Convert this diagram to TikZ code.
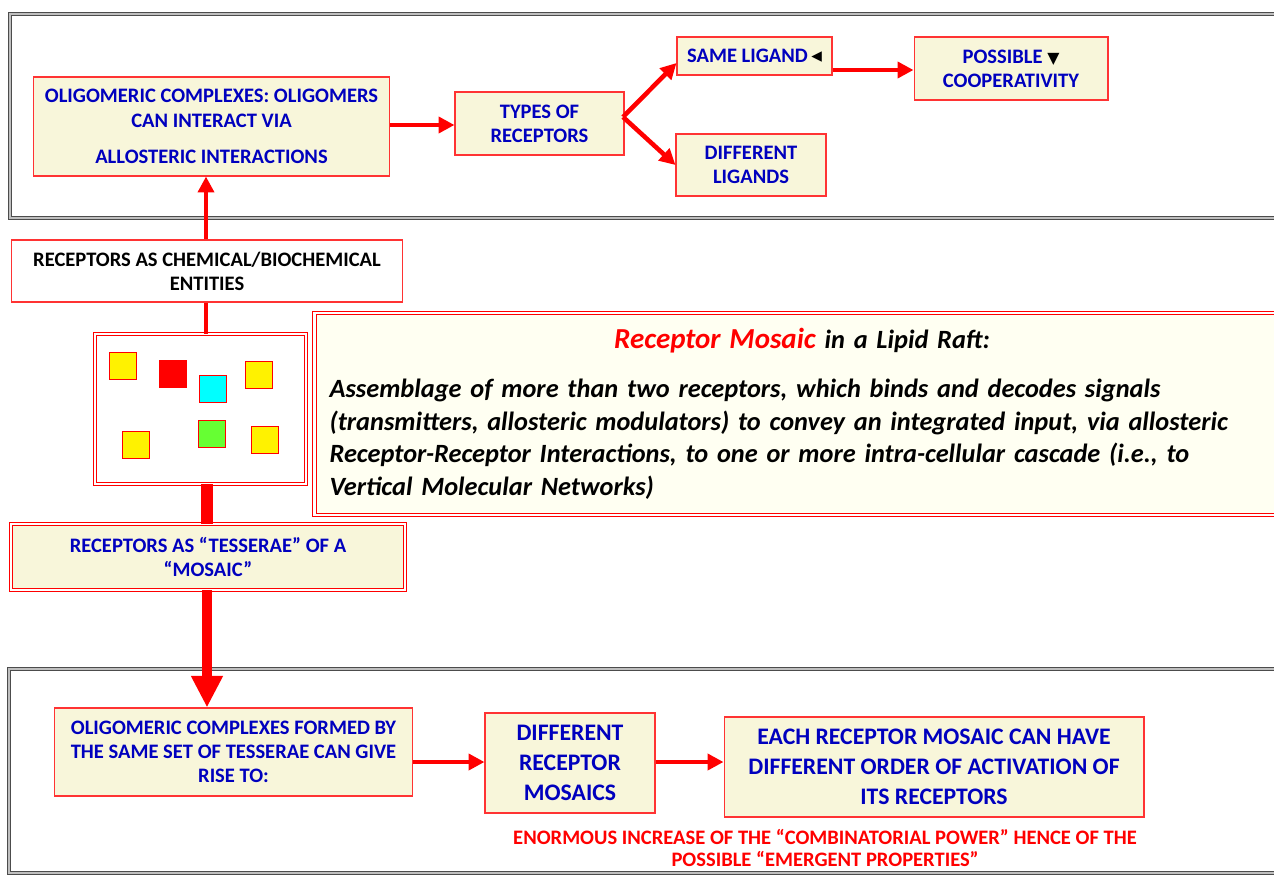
\documentclass[tikz,border=0pt]{standalone}
\usepackage{fontspec}
\setmainfont{Carlito}
\newfontfamily\symfont{DejaVu Sans}
\usetikzlibrary{arrows.meta,positioning}

\definecolor{boxfill}{RGB}{248,246,218}
\definecolor{raftfill}{RGB}{255,255,242}
\definecolor{labelblue}{RGB}{0,0,190}
\definecolor{tilegreen}{RGB}{102,255,51}
\definecolor{tilecyan}{RGB}{0,255,255}

\begin{document}
\begin{tikzpicture}[
  x=0.02cm, y=-0.02cm,
  >={Triangle[length=9pt,width=9pt]},
  link/.style={->, draw=red, line width=2.6pt},
  stem/.style={draw=red, line width=2.2pt},
  frame/.style={draw=black!70, double=black!25, double distance=0.7pt, line width=0.7pt},
  box/.style={
    rectangle,
    draw=red!80,
    fill=boxfill,
    line width=0.6pt,
    align=center,
    inner sep=2pt,
    text=labelblue,
    font=\bfseries\fontsize{11.7}{13.8}\selectfont
  },
  bigbox/.style={box, font=\bfseries\fontsize{13.5}{17}\selectfont},
  dbox/.style={
    rectangle,
    draw=red,
    double=white,
    double distance=1.4pt,
    line width=0.5pt,
    align=center,
    inner sep=2pt
  },
  tile/.style={rectangle, draw=red, line width=0.5pt, minimum size=0.54cm, inner sep=0pt}
]
  \useasboundingbox (0,0) rectangle (1274,875);

  % grey frames
  \draw[frame] (10,14) rectangle (1300,218);
  \draw[frame] (9,669) rectangle (1300,873);

  % top row
  \node[box, minimum width=7.14cm, minimum height=1.98cm] (oligoA) at (211.5,126.5)
    {OLIGOMERIC COMPLEXES: OLIGOMERS\\CAN INTERACT VIA\\[7pt]ALLOSTERIC INTERACTIONS};
  \node[box, minimum width=3.38cm, minimum height=1.26cm] (types) at (539.5,123.5)
    {TYPES OF\\RECEPTORS};
  \node[box, minimum width=3.1cm, minimum height=0.76cm] (same) at (754.5,56)
    {SAME LIGAND\,\textcolor{black}{\symfont\fontsize{12}{12}\selectfont ◂}};
  \node[box, minimum width=3.0cm, minimum height=1.24cm] (diffl) at (751,165)
    {DIFFERENT\\LIGANDS};
  \node[box, minimum width=3.88cm, minimum height=1.26cm] (coop) at (1011,68.5)
    {POSSIBLE \textcolor{black}{\symfont\small ▼}\\COOPERATIVITY};
  \coordinate (fork) at (623,117);

  % middle column
  \node[box, fill=white, text=black, minimum width=7.84cm, minimum height=1.24cm] (chem) at (207,271)
    {RECEPTORS AS CHEMICAL/BIOCHEMICAL\\ENTITIES};
  \node[dbox, fill=white, minimum width=4.22cm, minimum height=3.0cm] (raft) at (200.5,409) {};
  \node[dbox, fill=boxfill, text=labelblue, minimum width=7.88cm, minimum height=1.32cm,
    font=\bfseries\fontsize{11.7}{13.8}\selectfont] (tess) at (208,557)
    {RECEPTORS AS “TESSERAE” OF A\\“MOSAIC”};

  % tesserae
  \node[tile, fill=yellow] (t1) at (122.5,366) {};
  \node[tile, fill=red] (t2) at (172.5,373.5) {};
  \node[tile, fill=tilecyan] (t3) at (212.5,389) {};
  \node[tile, fill=yellow] (t4) at (258.5,374.5) {};
  \node[tile, fill=yellow] (t5) at (135.5,445) {};
  \node[tile, fill=tilegreen] (t6) at (211.5,434) {};
  \node[tile, fill=yellow] (t7) at (265,439.5) {};

  % definition
  \node[dbox, fill=raftfill, minimum width=19.5cm, minimum height=4.04cm, text width=18.9cm, align=left,
    font=\bfseries\itshape\fontsize{15}{18.7}\selectfont] (defn) at (802,414)
    {\makebox[\linewidth][c]{{\fontsize{16.5}{18}\selectfont\textcolor{red}{Receptor Mosaic}} in a Lipid Raft:}\\[9pt]
     Assemblage of more than two receptors, which binds and decodes signals\\
     (transmitters, allosteric modulators) to convey an integrated input, via allosteric\\
     Receptor-Receptor Interactions, to one or more intra-cellular cascade (i.e., to\\
     Vertical Molecular Networks)};

  % bottom row
  \node[box, minimum width=7.18cm, minimum height=1.76cm] (oligoB) at (233.5,752)
    {OLIGOMERIC COMPLEXES FORMED BY\\THE SAME SET OF TESSERAE CAN GIVE\\RISE TO:};
  \node[bigbox, minimum width=3.4cm, minimum height=2.0cm] (mosaics) at (570,763)
    {DIFFERENT\\RECEPTOR\\MOSAICS};
  \node[bigbox, minimum width=8.4cm, minimum height=2.0cm] (each) at (934,767)
    {EACH RECEPTOR MOSAIC CAN HAVE\\DIFFERENT ORDER OF ACTIVATION OF\\ITS RECEPTORS};
  \node[text=red, align=center, font=\bfseries\fontsize{11.7}{13}\selectfont] (power) at (825,848)
    {ENORMOUS INCREASE OF THE “COMBINATORIAL POWER” HENCE OF THE\\POSSIBLE “EMERGENT PROPERTIES”};

  % connectors
  \draw[link] (oligoA.east |- 0,125) -- (types.west |- 0,125);
  \draw[link] (fork) -- ([yshift=-0.14cm]same.west);
  \draw[link] (fork) -- (diffl.west);
  \draw[link] (same.east |- 0,70) -- (coop.west |- 0,70);
  \draw[->, draw=red, line width=2.2pt] (chem.north -| 206,0) -- (oligoA.south -| 206,0);
  \draw[stem] (chem.south -| 206,0) -- (raft.north -| 206,0);
  \draw[draw=red, line width=6.8pt] (raft.south -| 207,0) -- (tess.north -| 207,0);
  \draw[-{Triangle[length=18pt,width=17pt]}, draw=red, line width=5.6pt] (tess.south -| 207,0) -- (oligoB.north -| 207,0);
  \draw[link] (oligoB.east |- 0,762) -- (mosaics.west |- 0,762);
  \draw[link] (mosaics.east |- 0,762) -- (each.west |- 0,762);
\end{tikzpicture}
\end{document}
